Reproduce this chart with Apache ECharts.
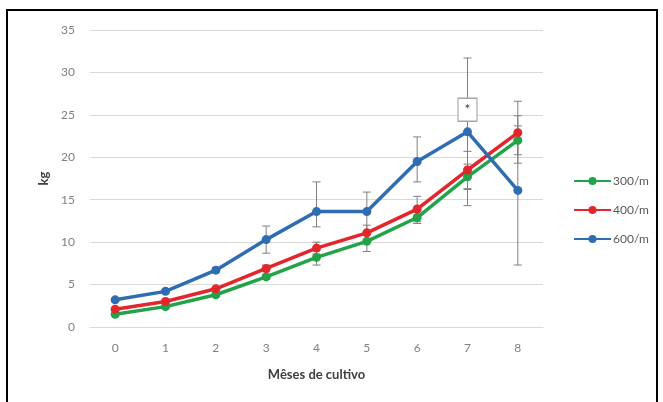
<!DOCTYPE html>
<html>
<head>
<meta charset="utf-8">
<script src="https://cdn.jsdelivr.net/npm/echarts@6/dist/echarts.min.js"></script>
<style>
html,body{margin:0;padding:0;background:#fff;}
#c{width:663px;height:402px;}
</style>
</head>
<body>
<div id="c"></div>
<script>
const months = ['0','1','2','3','4','5','6','7','8'];
const yTicks = [0,5,10,15,20,25,30,35];
const s300 = [1.5, 2.4, 3.8, 5.9, 8.2, 10.1, 12.9, 17.7, 22.0];
const s400 = [2.1, 3.0, 4.5, 6.9, 9.3, 11.1, 13.9, 18.5, 22.9];
const s600 = [3.2, 4.2, 6.7, 10.3, 13.6, 13.6, 19.5, 23.0, 16.1];
const err300Lo = [1.3, 2.2, 3.6, 5.6, 7.3, 8.9, 12.2, 16.2, 20.3];
const err300Hi = [1.7, 2.6, 4.0, 6.2, 9.0, 11.3, 13.6, 19.2, 23.7];
const err400Lo = [1.9, 2.8, 4.3, 6.5, 8.6, 10.2, 12.4, 16.3, 19.3];
const err400Hi = [2.3, 3.2, 4.7, 7.3, 10.0, 12.0, 15.4, 20.7, 26.6];
const err600Lo = [3.0, 4.0, 6.4, 8.7, 11.8, 11.3, 17.1, 14.3, 7.3];
const err600Hi = [3.4, 4.4, 7.0, 11.9, 17.1, 15.9, 22.4, 31.7, 24.9];
const starPoint = [7, 25.6];
const starLabel = '*';
const seriesNames = ['300/m', '400/m', '600/m'];
const colors = ['#22a34a', '#e3262b', '#2f6db2'];

const chart = echarts.init(document.getElementById('c'), null, {renderer: 'canvas'});
const font = 'Lato, "Open Sans", sans-serif';

function errSeries(lo, hi, z) {
  return {
    type: 'custom',
    silent: true,
    z: z,
    data: months.map((m, i) => [i, lo[i], hi[i]]),
    renderItem: function (params, api) {
      const x = api.value(0);
      const p1 = api.coord([x, api.value(1)]);
      const p2 = api.coord([x, api.value(2)]);
      const w = 4;
      const st = {stroke: '#7f7f7f', lineWidth: 1};
      return {
        type: 'group',
        children: [
          {type: 'line', shape: {x1: p1[0], y1: p1[1], x2: p2[0], y2: p2[1]}, style: st},
          {type: 'line', shape: {x1: p1[0]-w, y1: p1[1], x2: p1[0]+w, y2: p1[1]}, style: st},
          {type: 'line', shape: {x1: p2[0]-w, y1: p2[1], x2: p2[0]+w, y2: p2[1]}, style: st}
        ]
      };
    },
    tooltip: {show: false}
  };
}

function lineSeries(name, data, color) {
  return {
    name: name,
    type: 'line',
    data: data,
    z: 5,
    symbol: 'circle',
    symbolSize: 9,
    itemStyle: {color: color},
    lineStyle: {color: color, width: 3.5}
  };
}

chart.setOption({
  backgroundColor: '#fff',
  animation: false,
  color: colors,
  grid: {left: 90, right: 120, top: 30, bottom: 75},
  legend: {
    orient: 'vertical',
    left: 568,
    top: 170,
    itemWidth: 37,
    itemHeight: 10,
    itemGap: 17,
    data: seriesNames,
    textStyle: {color: '#595959', fontSize: 12, fontFamily: font, padding: [0,0,0,-3]}
  },
  xAxis: {
    type: 'category',
    data: months,
    boundaryGap: true,
    name: 'Mêses de cultivo',
    nameLocation: 'middle',
    nameGap: 41,
    nameTextStyle: {color: '#404040', fontSize: 13, fontWeight: 'bold', fontFamily: font},
    axisLine: {show: true, lineStyle: {color: '#d9d9d9', width: 1}},
    axisTick: {show: false},
    axisLabel: {color: '#808080', fontSize: 12, margin: 15, fontFamily: font}
  },
  yAxis: {
    type: 'value',
    min: yTicks[0],
    max: yTicks[yTicks.length - 1],
    interval: 5,
    name: 'kg',
    nameLocation: 'middle',
    nameGap: 40,
    nameTextStyle: {color: '#404040', fontSize: 13, fontWeight: 'bold', fontFamily: font},
    axisLine: {show: false},
    axisTick: {show: false},
    axisLabel: {color: '#808080', fontSize: 12, margin: 15, fontFamily: font},
    splitLine: {lineStyle: {color: '#d9d9d9', width: 1}}
  },
  series: [
    errSeries(err300Lo, err300Hi, 2),
    errSeries(err400Lo, err400Hi, 2),
    errSeries(err600Lo, err600Hi, 2),
    lineSeries(seriesNames[0], s300, colors[0]),
    lineSeries(seriesNames[1], s400, colors[1]),
    lineSeries(seriesNames[2], s600, colors[2]),
    {
      type: 'scatter',
      z: 8,
      data: [starPoint],
      symbol: 'rect',
      symbolSize: [19, 23],
      itemStyle: {color: '#fff', borderColor: '#a6a6a6', borderWidth: 1.2, opacity: 1},
      label: {show: true, position: 'inside', formatter: starLabel, color: '#404040', fontSize: 14, fontFamily: font}
    }
  ],
  graphic: [
    {type: 'polyline', silent: true, z: 100, shape: {points: [[7, 402], [7, 10], [657, 10], [657, 402]]}, style: {stroke: '#000', lineWidth: 2, fill: null}}
  ]
});
</script>
</body>
</html>
